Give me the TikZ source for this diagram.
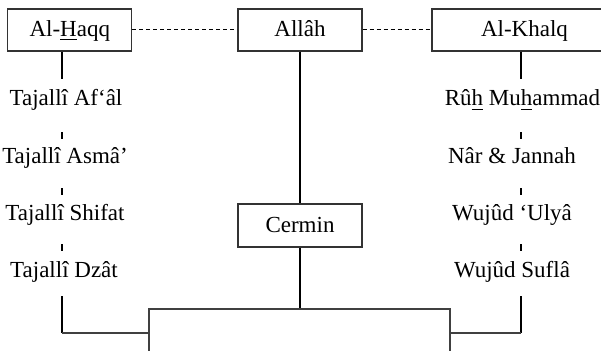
\documentclass[tikz,border=0pt]{standalone}
\usepackage{fontspec}
\setmainfont{Liberation Serif}
% underline a single letter with a firm bar
\newcommand\ulmark[1]{\setbox0\hbox{#1}\rlap{\rule[-3.8pt]{\wd0}{1.2pt}}\box0\relax}
\begin{document}
\begin{tikzpicture}[x=1pt,y=-1pt,
  font=\fontsize{23}{27}\selectfont,
  box/.style={draw=black!80, line width=1.2pt, minimum width=124pt, minimum height=42pt,
              inner sep=0pt, text height=16pt, text depth=3pt},
  item/.style={anchor=base, inner sep=0pt},
  link/.style={line width=1.4pt, black},
  frame/.style={line width=1.3pt, black!75},
  tick/.style={line width=1.3pt, black},
  rel/.style={dash pattern=on 4pt off 3pt, line width=1pt, black}]
\useasboundingbox (0,0) rectangle (601,350);
\clip (0,0) rectangle (601,350);

% top row
\node[box] (haqq) at (69.8,30) {Al-\ulmark{H}aqq};
\node[box] (allah) at (300,30) {Allâh};
\node[box, minimum width=185pt] (khalq) at (524.5,30) {Al-Khalq};
\node[box, minimum height=43pt] (cermin) at (300,225.5) {Cermin};

\draw[rel] (haqq) -- (allah);
\draw[rel] (allah) -- (khalq);

% column axes
\coordinate (lx) at (62,0);
\coordinate (rx) at (521,0);

% left column
\node[item] (afal)   at (66,106) {Tajallî Af‘âl};
\node[item] (asma)   at (65,163) {Tajallî Asmâ’};
\node[item] (shifat) at (65,220) {Tajallî Shifat};
\node[item] (dzat)   at (64,277) {Tajallî Dzât};

% right column
\node[item] (ruh)    at (522.5,106) {Rû\ulmark{h} Mu\ulmark{h}ammad};
\node[item] (nar)    at (512,163) {Nâr \& Jannah};
\node[item] (ulya)   at (512,220) {Wujûd ‘Ulyâ};
\node[item] (sufla)  at (512,277) {Wujûd Suflâ};

% stems from the side boxes
\draw[tick] (haqq.south -| lx) -- (62,79);
\draw[tick] (khalq.south -| rx) -- (521,79);

% short marks between the items
\foreach \y in {132,188,244} {
  \draw[tick] (62,\y) -- (62,\y+6.5);
  \draw[tick] (521,\y) -- (521,\y+6.5);
}

% central axis
\draw[link] (allah) -- (cermin);
\coordinate (hub) at (300,309);
\draw[link] (cermin) -- (hub);

% bottom frame
\draw[frame] (149,352) -- (149,309) -- (hub) -- (450,309) -- (450,352);
\draw[tick] (62,296) -- (62,333);
\draw[frame] (62,333) -- (149,333);
\draw[tick] (521,296) -- (521,333);
\draw[frame] (521,333) -- (450,333);
\end{tikzpicture}
\end{document}
